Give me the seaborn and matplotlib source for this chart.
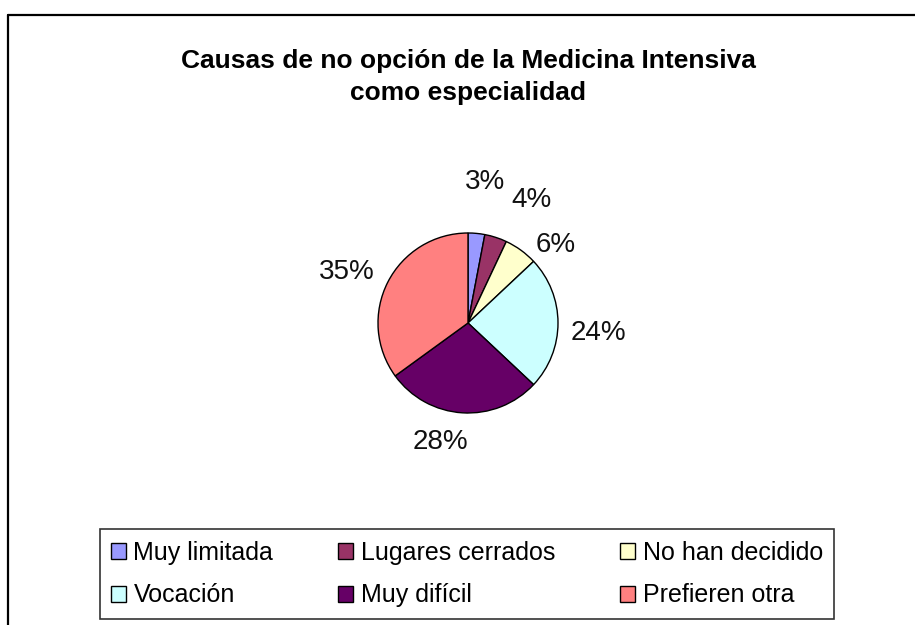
import numpy as np
import seaborn as sns
import matplotlib.pyplot as plt
from matplotlib.lines import Line2D

# data
categories = ['Muy limitada', 'Lugares cerrados', 'No han decidido',
              'Vocación', 'Muy difícil', 'Prefieren otra']
percent = [3, 4, 6, 24, 28, 35]
colors = ['#9999FF', '#993366', '#FFFFCC', '#CCFFFF', '#660066', '#FF8080']

sns.set_theme(style='white')
plt.rcParams['font.family'] = ['Liberation Sans', 'DejaVu Sans']
plt.rcParams['text.color'] = 'black'

W, H = 915, 625
fig = plt.figure(figsize=(W / 100, H / 100), dpi=100)

# pie axes: centre and radius in pixels
cx, cy, R = 468, 323, 90
half = 220
ax = fig.add_axes([(cx - half) / W, (H - cy - half) / H, 2 * half / W, 2 * half / H])

wedges, _ = ax.pie(percent, colors=colors, startangle=90, counterclock=False,
                   radius=1, wedgeprops=dict(edgecolor='black', linewidth=1))
# pie resets the limits, so fix them afterwards
ax.set_xlim(-half / R, half / R)
ax.set_ylim(-half / R, half / R)
ax.set_aspect('equal')
ax.axis('off')

# label placement (distance in radii, angle nudge in degrees) like Excel best fit
label_dist = [1.58, 1.54, 1.30, 1.45, 1.36, 1.46]
label_shift = [-1.5, -9.5, -12.5, -4.4, -9.4, 4.0]
for w, p, d, s in zip(wedges, percent, label_dist, label_shift):
    ang = np.deg2rad((w.theta1 + w.theta2) / 2 + s)
    ax.text(d * np.cos(ang), d * np.sin(ang), f'{p}%', ha='center', va='center',
            fontsize=20, color='#111111')

# title
fig.text(cx / W, 1 - 77 / H, 'Causas de no opción de la Medicina Intensiva\ncomo especialidad',
         ha='center', va='center', fontsize=19, fontweight='bold', linespacing=1.45,
         color='black')

# legend, filled row by row
handles = [plt.Rectangle((0, 0), 1, 1, facecolor=c, edgecolor='black', linewidth=1)
           for c in colors]
order = [0, 3, 1, 4, 2, 5]
leg = fig.legend([handles[i] for i in order], [categories[i] for i in order],
                 ncol=3, loc='center', bbox_to_anchor=(467 / W, 1 - 574 / H),
                 fontsize=18, frameon=True, fancybox=False, edgecolor='black',
                 handlelength=0.6, handleheight=0.6, handletextpad=0.3,
                 columnspacing=2.6, labelspacing=0.75, borderpad=0.45,
                 labelcolor='black')
leg.get_frame().set_linewidth(1.2)
leg.get_frame().set_facecolor('white')

# chart-area border (top and left visible)
fig.add_artist(Line2D([8 / W, 1], [1 - 15 / H, 1 - 15 / H], color='black', lw=1.6))
fig.add_artist(Line2D([8 / W, 8 / W], [0, 1 - 15 / H], color='black', lw=1.6))

fig.savefig('out.png', dpi=100, facecolor='white')
